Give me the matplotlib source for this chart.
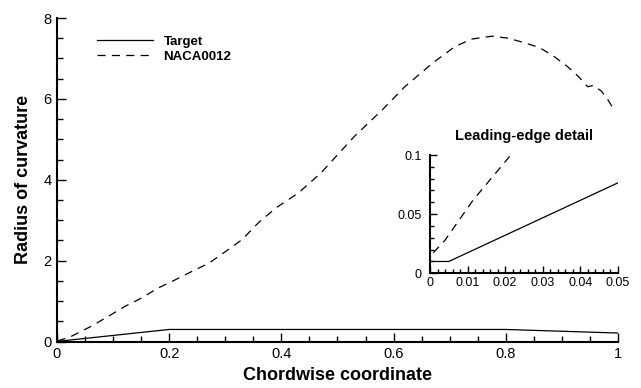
import matplotlib
matplotlib.use("Agg")
import matplotlib.pyplot as plt
from matplotlib.ticker import MultipleLocator

plt.rcParams["font.family"] = ["Liberation Sans", "DejaVu Sans"]

# ── Data ──────────────────────────────────────────────────────────────────────
target_x = [0.0, 0.005, 0.2, 0.8, 1.0]
target_y = [0.01, 0.01, 0.298, 0.298, 0.21]

naca_x = [0.0009, 0.004, 0.0115, 0.0215, 0.06, 0.09, 0.12, 0.15, 0.18, 0.21,
          0.24, 0.27, 0.30, 0.33, 0.36, 0.39, 0.43, 0.47, 0.53, 0.58, 0.62,
          0.67, 0.71, 0.74, 0.775, 0.805, 0.835, 0.86, 0.885, 0.91, 0.93,
          0.946, 0.956, 0.97, 0.98, 0.992]
naca_y = [0.0174, 0.028, 0.062, 0.10, 0.37, 0.61, 0.86, 1.07, 1.32, 1.52,
          1.73, 1.93, 2.22, 2.52, 2.95, 3.30, 3.67, 4.16, 5.07, 5.73, 6.30,
          6.89, 7.30, 7.48, 7.55, 7.50, 7.38, 7.27, 7.06, 6.80, 6.55,
          6.30, 6.33, 6.20, 6.03, 5.75]

DASH = (6.5, 5)


def tec_axes(ax, major_len, minor_len, pad):
    ax.spines[["top", "right"]].set_visible(False)
    for s in ("left", "bottom"):
        ax.spines[s].set_linewidth(1.5)
    ax.tick_params(which="both", direction="in", top=False, right=False,
                   width=1.0, pad=pad)
    ax.tick_params(which="major", length=major_len)
    ax.tick_params(which="minor", length=minor_len)


fig = plt.figure(figsize=(6.41, 3.88), dpi=100)
ax = fig.add_axes([0.0889, 0.1198, 0.8751, 0.8338])

ax.plot(target_x, target_y, color="black", lw=0.9, label="Target")
ax.plot(naca_x, naca_y, color="black", lw=0.9, dashes=DASH, label="NACA0012")
ax.set_xlim(0, 1)
ax.set_ylim(0, 8)
ax.xaxis.set_minor_locator(MultipleLocator(0.05))
ax.yaxis.set_minor_locator(MultipleLocator(0.5))
ax.set_xticks([0, 0.2, 0.4, 0.6, 0.8, 1.0])
ax.set_xticklabels(["0", "0.2", "0.4", "0.6", "0.8", "1"], fontsize=10.5)
ax.set_yticks([0, 2, 4, 6, 8])
ax.set_yticklabels(["0", "2", "4", "6", "8"], fontsize=10.5)
tec_axes(ax, 6.5, 4, 4)
ax.set_xlabel("Chordwise coordinate", fontsize=13, fontweight="bold", labelpad=4)
ax.set_ylabel("Radius of curvature", fontsize=13, fontweight="bold", labelpad=8)

leg = ax.legend(loc="upper left", bbox_to_anchor=(0.071, 0.945), frameon=False,
                fontsize=9.5, handlelength=4.25, handletextpad=0.8,
                labelspacing=0.2, borderpad=0, borderaxespad=0)
for t in leg.get_texts():
    t.set_fontweight("bold")

# ── Inset: leading-edge detail ────────────────────────────────────────────────
ins = fig.add_axes([0.6708, 0.2956, 0.2932, 0.3049])
ins.plot(target_x, target_y, color="black", lw=0.9)
ins.plot(naca_x, naca_y, color="black", lw=0.9, dashes=DASH)
ins.set_xlim(0, 0.05)
ins.set_ylim(0, 0.1)
ins.set_xticks([0, 0.01, 0.02, 0.03, 0.04, 0.05])
ins.set_xticklabels(["0", "0.01", "0.02", "0.03", "0.04", "0.05"], fontsize=9)
ins.set_yticks([0, 0.05, 0.1])
ins.set_yticklabels(["0", "0.05", "0.1"], fontsize=9)
ins.xaxis.set_minor_locator(MultipleLocator(0.002))
ins.yaxis.set_minor_locator(MultipleLocator(0.01))
tec_axes(ins, 5, 3, 3)
ins.tick_params(axis="y", pad=6)
ins.set_title("Leading-edge detail", fontsize=10.5, fontweight="bold", pad=11)

fig.savefig("out.png", dpi=100)
